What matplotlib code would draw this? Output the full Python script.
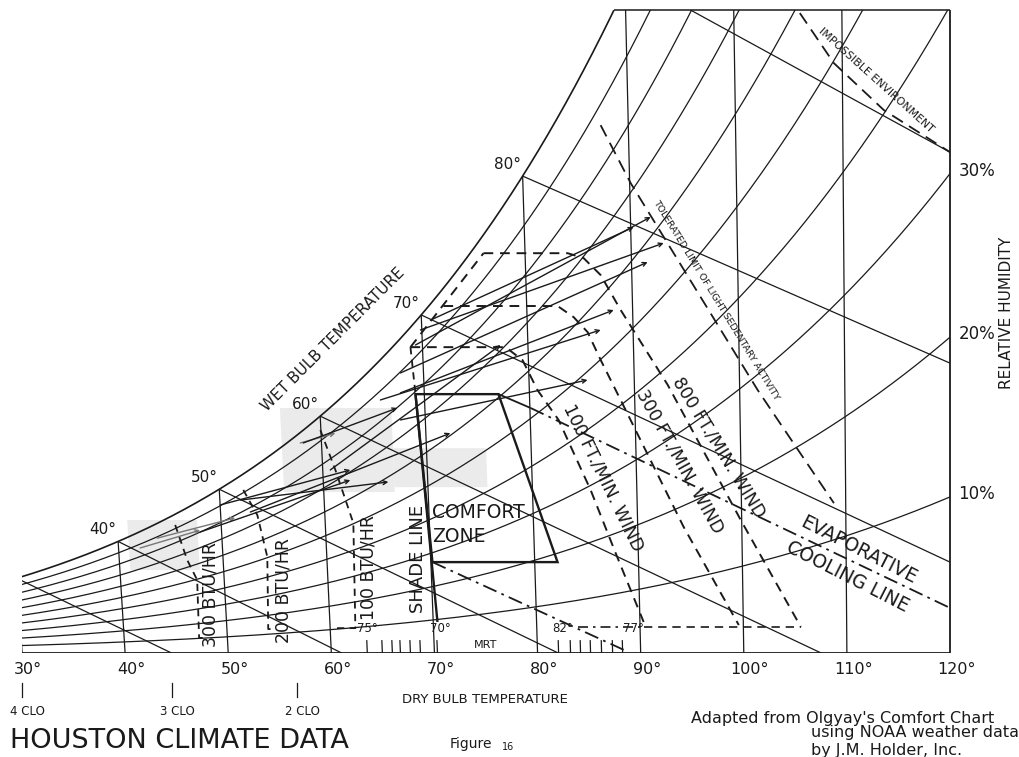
import numpy as np
import matplotlib
matplotlib.use("Agg")
import matplotlib.pyplot as plt
from matplotlib.patches import Polygon

# ---------------- chart data ----------------
# dry-bulb scale (deg F)
db_temps = [30, 40, 50, 60, 70, 80, 90, 100, 110, 120]
db_labels = ["30°", "40°", "50°", "60°", "70°", "80°", "90°", "100°", "110°", "120°"]
# relative humidity curves (%)
rh_levels = [10, 20, 30, 40, 50, 60, 70, 80, 90]
rh_labelled = [30, 20, 10]
# wet-bulb lines: start on saturation curve, end point (dry bulb F, grains/lb)
wb_temps = [30, 40, 50, 60, 70, 80]
wb_labels = ["30°", "40°", "50°", "60°", "70°", "80°"]
wb_end_T = [44.5, 61.0, 82.0, 107.5, 120.0, 120.0]
wb_end_g = [0.0, 0.0, 0.0, 0.0, 29.6, 94.4]
wb90_T = [96.0, 120.0]
wb90_g = [209.4, 163.1]
# comfort zone, shade line, evaporative cooling lines
comfort_T = [69.16, 77.05, 82.2, 70.15]
comfort_g = [84.3, 84.3, 29.6, 29.6]
shade_T = [69.16, 70.41]
shade_g = [84.3, 10.1]
shade_top_T = [68.86, 69.16]
shade_top_g = [99.6, 84.3]
evap_solid_T = [77.05, 80.06]
evap_solid_g = [84.3, 79.8]
evap_upper_T = [80.06, 119.8]
evap_upper_g = [79.8, 15.0]
evap_lower_T = [70.15, 88.83]
evap_lower_g = [29.6, 0.3]
# wind lines
wind_edge_T = [68.86, 76.09]
wind_edge_g = [99.6, 130.2]
w100_T = [68.86, 77.87, 79.44, 80.78, 82.70, 85.57, 87.81, 90.36]
w100_g = [99.6, 99.6, 95.4, 85.6, 75.9, 53.1, 32.6, 10.1]
w300_T = [72.13, 82.92, 84.40, 85.69, 86.86, 88.66, 94.42, 99.56]
w300_g = [113.0, 113.0, 109.4, 104.5, 95.4, 82.4, 41.0, 9.1]
w800_T = [76.09, 84.01, 85.50, 87.06, 88.87, 93.17, 99.91, 105.56]
w800_g = [130.2, 130.2, 128.6, 123.1, 111.7, 87.3, 43.3, 8.5]
wind_base_T = [83.95, 90.36, 105.56]
wind_base_g = [8.5, 8.5, 8.5]
# limits
tolerated_T = [87.42, 90.10, 101.72, 108.87]
tolerated_g = [171.9, 153.0, 85.6, 48.8]
impossible_T = [106.11, 109.22, 113.84, 120.0]
impossible_g = [208.4, 192.1, 176.8, 163.1]
# radiation (BTU/HR) lines
b300_T = [45.58, 46.54, 47.39, 47.26, 47.7]
b300_g = [41.7, 30.3, 23.8, 4.9, 4.9]
b200_T = [52.30, 53.52, 54.27, 54.0, 54.4]
b200_g = [53.1, 44.9, 31.3, 7.8, 7.8]
b100_T = [59.95, 61.21, 62.70, 62.44, 60.30]
b100_g = [72.6, 59.6, 42.3, 8.1, 8.1]
# MRT scales (dry bulb positions of the tick marks)
mrt_low_T = [63.49, 64.95, 65.92, 66.70, 67.67, 68.64, 70.29]
mrt_high_T = [82.04, 83.20, 84.17, 85.14, 86.21, 87.28, 88.25]
# clothing scale
clo_T = [30.0, 44.56, 56.7]
clo_labels = ["4 CLO", "3 CLO", "2 CLO"]
# Houston monthly climate lines (start T, start gr, end T, end gr)
clim_T1 = [42.08, 43.77, 47.94, 50.01, 51.96, 52.86, 57.98, 58.26, 60.72, 65.80, 67.63, 67.73, 67.81, 69.87, 69.34, 70.85]
clim_g1 = [34.2, 37.4, 39.4, 48.2, 49.8, 45.9, 68.4, 68.4, 59.6, 82.4, 75.9, 84.7, 91.2, 105.2, 100.3, 108.4]
clim_T2 = [47.95, 51.38, 62.59, 62.64, 66.23, 72.34, 61.37, 67.39, 77.41, 86.93, 85.56, 88.21, 91.52, 93.07, 91.90, 90.28]
clim_g2 = [40.0, 44.0, 56.3, 59.6, 55.7, 71.6, 71.6, 79.8, 100.3, 105.2, 88.9, 111.7, 127.3, 133.5, 142.0, 138.7]
clim_grey = [True, True, False, False, False, False, True, False, False, False, False, False, False, False, False, False]
# scan shading patches (T range, grains range)
shade_patch_T = [(56.2, 66.8), (66.8, 75.7), (41.0, 47.7)]
shade_patch_g = [(52.4, 79.8), (54.0, 66.7), (27.0, 43.3)]

# ---------------- psychrometrics ----------------
P_ATM = 101.325
GR_TOP = 209.4
K_FAN = 0.000233


def es_kpa(T):
    Tc = (np.asarray(T, float) - 32.0) / 1.8
    return 0.61094 * np.exp(17.625 * Tc / (Tc + 243.04))


def w_gr(T, rh):
    pw = rh * es_kpa(T)
    return 7000.0 * 0.622 * pw / (P_ATM - pw)


def fan(T, g):
    T = np.asarray(T, float)
    g = np.asarray(g, float)
    return 120.0 - (120.0 - T) * (1.0 + K_FAN * g)


INK = "#1a1a1a"
fig = plt.figure(figsize=(10.2, 7.57), dpi=100)
fig.patch.set_facecolor("white")
ax = fig.add_axes([22 / 1020, 104 / 757, 928 / 1020, 643 / 757])
ax.set_xlim(30, 120)
ax.set_ylim(0, GR_TOP)
ax.axis("off")


def poly(T, g, **kw):
    kw.setdefault("color", INK)
    kw.setdefault("solid_capstyle", "butt")
    ax.plot(fan(T, g), g, **kw)


# grey scan patches
for (t0, t1), (g0, g1) in zip(shade_patch_T, shade_patch_g):
    cT = [t0, t1, t1, t0]
    cg = [g0, g0, g1, g1]
    ax.add_patch(Polygon(np.column_stack([fan(cT, cg), cg]), closed=True,
                         facecolor="#ebebeb", edgecolor="none", zorder=0))

# saturation curve
Tg = np.linspace(30, 100, 4001)
T_top = Tg[np.argmin(np.abs(w_gr(Tg, 1.0) - GR_TOP))]
Ts = np.linspace(30, T_top, 400)
poly(Ts, w_gr(Ts, 1.0), lw=1.2)

# RH curves
Tr = np.linspace(30, 120, 600)
for rh in rh_levels:
    poly(Tr, w_gr(Tr, rh / 100.0), lw=0.9)

# boundaries
poly([30, 120], [0, 0], lw=1.3)
poly([T_top, 120], [GR_TOP, GR_TOP], lw=1.1, clip_on=False)
poly([30, 30], [0, w_gr(30, 1.0)], lw=1.1)
poly([120, 120], [0, GR_TOP], lw=1.3, clip_on=False)

# dry-bulb lines
for T in db_temps[1:-1]:
    top = min(float(w_gr(T, 1.0)), GR_TOP)
    poly([T, T], [0, top], lw=0.9)

# wet-bulb lines
for t, te, ge, lab in zip(wb_temps, wb_end_T, wb_end_g, wb_labels):
    gs = float(w_gr(t, 1.0))
    poly([t, te], [gs, ge], lw=0.9)
    if t == 30:
        ax.annotate(lab, (fan(t, gs), gs), xytext=(0, 6), textcoords="offset points",
                    ha="center", va="bottom", fontsize=11, color=INK)
    else:
        ax.annotate(lab, (fan(t, gs), gs), xytext=(-1, 3), textcoords="offset points",
                    ha="right", va="bottom", fontsize=11, color=INK)
poly(wb90_T, wb90_g, lw=0.9)

# RH labels at right edge
for rh in rh_labelled:
    g = float(w_gr(120, rh / 100.0))
    ax.annotate(f"{rh}%", (120, g), xytext=(6, 2), textcoords="offset points",
                ha="left", va="center", fontsize=12, color=INK, annotation_clip=False)

# climate lines
for t1, g1, t2, g2, grey in zip(clim_T1, clim_g1, clim_T2, clim_g2, clim_grey):
    col = "#777777" if grey else INK
    ax.annotate("", xy=(fan(t2, g2), g2), xytext=(fan(t1, g1), g1),
                arrowprops=dict(arrowstyle="->", lw=1.0, color=col,
                                shrinkA=0, shrinkB=0, mutation_scale=7))

# comfort zone
cz = np.column_stack([fan(comfort_T, comfort_g), comfort_g])
ax.add_patch(Polygon(cz, closed=True, fill=False, edgecolor=INK, lw=1.7, zorder=3))
poly(shade_T, shade_g, lw=1.7)
poly(shade_top_T, shade_top_g, lw=1.3, linestyle=(0, (4, 3)))
poly(evap_solid_T, evap_solid_g, lw=1.3)
poly(evap_upper_T, evap_upper_g, lw=1.3, linestyle=(0, (8, 3, 1.5, 3)))
poly(evap_lower_T, evap_lower_g, lw=1.3, linestyle=(0, (8, 3, 1.5, 3)))

# wind lines
dash = (0, (5, 3.5))
poly(wind_edge_T, wind_edge_g, lw=1.4, linestyle=dash)
poly(w100_T, w100_g, lw=1.4, linestyle=dash)
poly(w300_T, w300_g, lw=1.4, linestyle=dash)
poly(w800_T, w800_g, lw=1.4, linestyle=dash)
poly(wind_base_T[:2], wind_base_g[:2], lw=1.2, linestyle=(0, (6, 3, 1.5, 3)))
poly(wind_base_T[1:], wind_base_g[1:], lw=1.2, linestyle=dash)

# tolerated limit & impossible environment
poly(tolerated_T, tolerated_g, lw=1.3, linestyle=(0, (7, 4)))
poly(impossible_T, impossible_g, lw=1.3, linestyle=(0, (7, 4)), clip_on=False)

# BTU lines
for bt, bg in [(b300_T, b300_g), (b200_T, b200_g), (b100_T, b100_g)]:
    poly(bt, bg, lw=1.3, linestyle=(0, (4, 3)))

# MRT ticks
for t in mrt_low_T + mrt_high_T:
    poly([t, t], [0, 4.2], lw=0.9)

# ---------------- text ----------------
def tx(x, y, s, **kw):
    kw.setdefault("color", INK)
    kw.setdefault("ha", "center")
    kw.setdefault("va", "center")
    ax.text(x, y, s, clip_on=False, **kw)

tx(60.19, 101.9, "WET BULB TEMPERATURE", fontsize=11, rotation=45, rotation_mode="anchor")
tx(69.81, 45.9, "COMFORT", fontsize=13.5, ha="left")
tx(69.81, 37.8, "ZONE", fontsize=13.5, ha="left")
tx(68.45, 30.6, "SHADE LINE", fontsize=13, rotation=90)
tx(63.59, 28.0, "100 BTU/HR", fontsize=12.5, rotation=90)
tx(55.34, 20.5, "200 BTU/HR", fontsize=12.5, rotation=90)
tx(48.25, 18.9, "300 BTU/HR", fontsize=12.5, rotation=90)
tx(86.4, 57.0, "100 FT./MIN. WIND", fontsize=12.5, rotation=-64, rotation_mode="anchor")
tx(93.8, 62.5, "300 FT./MIN. WIND", fontsize=12.5, rotation=-61, rotation_mode="anchor")
tx(97.6, 67.1, "800 FT./MIN. WIND", fontsize=12.5, rotation=-58.5, rotation_mode="anchor")
tx(97.28, 114.9, "TOLERATED LIMIT OF LIGHT SEDENTARY ACTIVITY", fontsize=6.8,
   rotation=-58.5, rotation_mode="anchor")
tx(112.82, 186.6, "IMPOSSIBLE ENVIRONMENT", fontsize=7.8, rotation=-42, rotation_mode="anchor")
tx(111.17, 33.5, "EVAPORATIVE", fontsize=13.5, rotation=-27, rotation_mode="anchor")
tx(110.10, 24.7, "COOLING LINE", fontsize=13.5, rotation=-27, rotation_mode="anchor")
tx(74.95, 2.6, "MRT", fontsize=8)
tx(63.49, 8.1, "75°", fontsize=8.5)
tx(70.58, 8.1, "70°", fontsize=8.5)
tx(82.43, 8.1, "82°", fontsize=8.5)
tx(89.32, 8.1, "77°", fontsize=8.5)
tx(125.44, 110.7, "RELATIVE HUMIDITY", fontsize=11, rotation=90)

for t, lab in zip(db_temps, db_labels):
    tx(t + 0.6, -5.5, lab, fontsize=11.5)
for t, lab in zip(clo_T, clo_labels):
    ax.plot([t, t], [-9.8, -14.3], lw=0.9, color=INK, clip_on=False)
    tx(t + 0.5, -19.2, lab, fontsize=8.5)
tx(74.85, -15.3, "DRY BULB TEMPERATURE", fontsize=9.5)
tx(28.84, -28.6, "HOUSTON CLIMATE DATA", fontsize=19.5, ha="left")
tx(73.5, -29.6, "Figure", fontsize=10)
tx(77.1, -30.6, "16", fontsize=7)
tx(94.85, -21.2, "Adapted from Olgyay's Comfort Chart", fontsize=11.5, ha="left")
tx(106.5, -26.0, "using NOAA weather data", fontsize=11.5, ha="left")
tx(106.5, -31.8, "by J.M. Holder, Inc.", fontsize=11.5, ha="left")

fig.savefig("out.png", dpi=100, facecolor="white")
